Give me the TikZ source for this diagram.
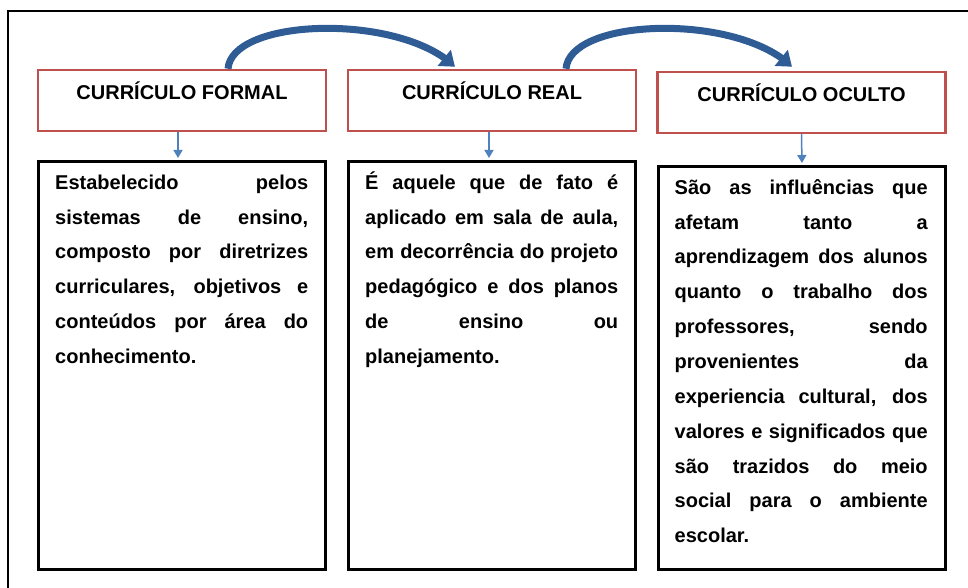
\documentclass[tikz,border=0pt]{standalone}
\usepackage{fontspec}
\setmainfont{Liberation Sans}
\usetikzlibrary{positioning,arrows.meta,shadows,bending}
\definecolor{vermelho}{RGB}{192,80,77}
\definecolor{azul}{RGB}{79,129,189}
\definecolor{azulescuro}{RGB}{47,92,148}
\tolerance=10000
\hyphenpenalty=10000

\begin{document}
\begin{tikzpicture}[x=1pt,y=-1pt,
  titulo/.style={draw=vermelho,line width=2.5pt,minimum width=288pt,minimum height=61pt,inner ysep=0pt,text height=30pt,text depth=31pt,font=\fontsize{20}{24}\selectfont\bfseries},
  caixa/.style={draw=black,line width=3pt,minimum width=287pt,minimum height=408pt,fill=white,drop shadow={shadow xshift=1.5pt,shadow yshift=-1.5pt,fill=black!60}},
  texto/.style={anchor=north west,inner sep=0pt,text width=253pt,align=justify,font=\fontsize{20}{34.85}\selectfont\bfseries},
  seta/.style={azul,line width=1.5pt,shorten >=2pt,-{Triangle[length=8pt,width=9pt]}},
  curva/.style={azulescuro,line width=7pt,-{Triangle[length=14pt,width=20pt]}}]
\useasboundingbox (0,0) rectangle (968,588);
\draw[line width=2pt] (8,588) -- (8,11) -- (968,11);

\node[titulo] (r1) at (182,100.5) {CURRÍCULO FORMAL};
\node[titulo] (r2) at (492,100.5) {CURRÍCULO REAL};
\node[titulo] (r3) at (801.5,102.5) {CURRÍCULO OCULTO};

\node[caixa] (b1) at (182,365.5) {};
\node[caixa] (b2) at (492,365.5) {};
\node[caixa,minimum height=403pt] (b3) at (802,368) {};

\node[texto] (t1) at ([shift={(18,9)}]b1.north west) {\noindent\rule{0pt}{20pt}Estabelecido pelos\linebreak sistemas de ensino,\linebreak composto por diretrizes\linebreak curriculares, objetivos e\linebreak conteúdos por área do\linebreak conhecimento.};
\node[texto] (t2) at ([shift={(18,9)}]b2.north west) {\noindent\rule{0pt}{20pt}É aquele que de fato é\linebreak aplicado em sala de aula,\linebreak em decorrência do projeto\linebreak pedagógico e dos planos\linebreak de ensino ou\linebreak planejamento.};
\node[texto] (t3) at ([shift={(17.5,9)}]b3.north west) {\noindent\rule{0pt}{20pt}São as influências que\linebreak afetam tanto a\linebreak aprendizagem dos alunos\linebreak quanto o trabalho dos\linebreak professores, sendo\linebreak provenientes da\linebreak experiencia cultural, dos\linebreak valores e significados que\linebreak são trazidos do meio\linebreak social para o ambiente\linebreak escolar.};

\draw[seta] ([xshift=-4pt]r1.south) -- ([xshift=-4pt]b1.north);
\draw[seta] ([xshift=-3pt]r2.south) -- ([xshift=-3pt]b2.north);
\draw[seta] (r3.south) -- (b3.north);

\draw[curva] ([xshift=46pt]r1.north) .. controls +(4,-51) and +(-55,-54) .. ([xshift=-37pt,yshift=2pt]r2.north);
\draw[curva] ([xshift=74pt]r2.north) .. controls +(4,-51) and +(-55,-54) .. ([xshift=-9.5pt,yshift=4pt]r3.north);
\end{tikzpicture}
\end{document}
